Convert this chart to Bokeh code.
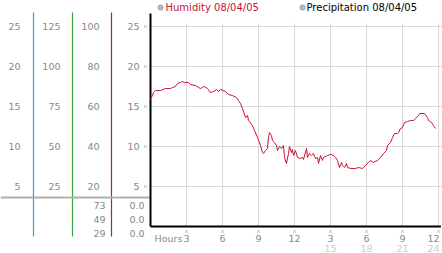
from bokeh.plotting import figure
from bokeh.models import Range1d
from bokeh.core.properties import value
from bokeh.embed import file_html
from bokeh.resources import INLINE

# ---------------- data ----------------
hours = [0.0, 0.17, 0.25, 0.42, 0.83, 1.25, 1.67, 1.83, 2.08, 2.25, 2.5, 2.67, 2.83, 3.17, 3.33,
         3.75, 4.0, 4.17, 4.33, 4.5, 4.75, 5.0, 5.25, 5.5, 5.67, 5.83, 6.25, 6.5, 6.83, 7.17,
         7.33, 7.5, 7.67, 7.92, 8.08, 8.17, 8.5, 8.67, 8.92, 9.17, 9.33, 9.42, 9.58, 9.75, 9.83,
         9.92, 10.08, 10.17, 10.33, 10.5, 10.58, 10.75, 10.92, 11.08, 11.17, 11.33, 11.5, 11.58,
         11.75, 11.83, 11.92, 12.08, 12.25, 12.42, 12.67, 12.75, 13.0, 13.08, 13.25, 13.42, 13.58,
         13.75, 13.92, 14.0, 14.17, 14.33, 14.42, 14.75, 15.0, 15.25, 15.42, 15.58, 15.75, 15.92,
         16.0, 16.17, 16.33, 16.42, 16.67, 17.08, 17.33, 17.67, 17.92, 18.17, 18.33, 18.58, 18.92,
         19.17, 19.42, 19.67, 19.75, 20.0, 20.17, 20.33, 20.58, 20.67, 20.83, 21.0, 21.17, 21.42,
         21.67, 21.92, 22.08, 22.33, 22.42, 22.83, 23.08, 23.17, 23.42, 23.58, 23.75]
humidity = [64, 65.5, 67, 68, 68, 69, 69, 69.5, 70, 71.5, 72, 72.5, 72, 72, 71,
            70.5, 69.5, 69, 69.5, 70, 69, 67, 67.5, 68.5, 67.5, 68.5, 67.5, 66, 65.5, 64.5,
            63, 61.5, 59, 54.5, 55.5, 53, 50.5, 48, 44.5, 40.5, 37, 36.5, 38, 39, 44.5,
            47, 45.5, 43, 42, 40.5, 38, 40, 39, 40.5, 34.5, 31.5, 36.5, 40,
            37, 38.5, 35.5, 38, 34.5, 34, 34.5, 33.5, 39, 34.5, 36.5, 35.5, 36.5,
            34, 34.5, 31.5, 35.5, 33, 34.5, 35.5, 36, 35.5, 34.5, 33, 29.5, 32,
            30.5, 29.5, 31.5, 29.5, 29, 29, 29.5, 29, 30.5, 32, 33, 32, 33,
            34.5, 36.5, 38, 40.5, 42, 44.5, 46.5, 46.5, 47, 49, 49.5, 52, 52.5,
            53, 53, 54, 55.5, 56.5, 56.5, 54.5, 53, 52, 50.5, 49]

grid_pct = [100, 80, 60, 40, 20]
col1_labels = ["25", "20", "15", "10", "5"]
col2_labels = ["125", "100", "75", "50", "25"]
col3_labels = ["100", "80", "60", "40", "20"]
col4_labels = ["25", "20", "15", "10", "5"]
stats_humidity = ["73", "49", "29"]
stats_precip = ["0.0", "0.0", "0.0"]
hour_ticks = [3, 6, 9, 12, 15, 18, 21, 24]
hour_labels = ["3", "6", "9", "12", "3", "6", "9", "12"]
hour_ticks2 = [15, 18, 21, 24]
hour_labels2 = ["15", "18", "21", "24"]
legend_names = ["Humidity 08/04/05", "Precipitation 08/04/05"]

# ---------------- layout ----------------
W, H = 442, 253
X0, PXH = 150, 12.0      # pixel of hour 0, pixels per hour
Y0, PYP = 226, 2.0       # pixel of 0 %, pixels per %
FONT = value("DejaVu Sans")
GRAY = "#888888"

p = figure(width=W, height=H, output_backend="svg", toolbar_location=None,
           x_range=Range1d(-X0 / PXH, (W - X0) / PXH),
           y_range=Range1d(-(H - Y0) / PYP, Y0 / PYP),
           min_border=0, x_axis_location=None, y_axis_location=None)
p.extra_x_ranges = {"px": Range1d(0, W)}
p.extra_y_ranges = {"px": Range1d(H, 0)}
p.grid.visible = False
p.outline_line_color = None
p.background_fill_color = "white"
p.border_fill_color = "white"

# grid lines
p.segment(x0=[-0.05] * len(grid_pct), x1=[24.3] * len(grid_pct), y0=grid_pct, y1=grid_pct,
          line_color="#d8d8d8", line_width=1)
p.segment(x0=hour_ticks, x1=hour_ticks, y0=[0] * len(hour_ticks), y1=[101.5] * len(hour_ticks),
          line_color="#d8d8d8", line_width=1)

# left panel: coloured separators and gray rule
p.segment(x0=[33, 72, 111], x1=[33, 72, 111], y0=[12, 12, 12], y1=[236, 236, 236],
          line_color=["#3a9bd5", "#3aa53a", "#b8232f"], line_width=1.2,
          x_range_name="px", y_range_name="px")
p.segment(x0=[0], x1=[150], y0=[197], y1=[197], line_color="#b0b0b0", line_width=2,
          x_range_name="px", y_range_name="px")

# left panel labels
for xr, labels in [(20, col1_labels), (60, col2_labels), (99, col3_labels), (139, col4_labels)]:
    p.text(x=[xr] * len(labels), y=grid_pct, text=labels, x_range_name="px",
           text_align="right", text_baseline="middle", text_font=FONT,
           text_font_size="9.5px", text_color=GRAY)
p.scatter(x=[145] * len(grid_pct), y=grid_pct, marker="x", size=3, line_color="#999999",
          x_range_name="px")
p.text(x=[105] * 3, y=[205, 219, 233], text=stats_humidity, x_range_name="px", y_range_name="px",
       text_align="right", text_baseline="middle", text_font=FONT, text_font_size="9.5px",
       text_color=GRAY)
p.text(x=[144] * 3, y=[205, 219, 233], text=stats_precip, x_range_name="px", y_range_name="px",
       text_align="right", text_baseline="middle", text_font=FONT, text_font_size="9.5px",
       text_color=GRAY)

# axes
p.segment(x0=[0, 0], x1=[0, 24.2], y0=[0, 0], y1=[106.5, 0], line_color="black", line_width=2)

# hour ticks (last label nudged left so it stays inside the window)
offs1 = [0] * (len(hour_ticks) - 1) + [-5]
offs2 = [0] * (len(hour_ticks2) - 1) + [-5]
p.scatter(x=hour_ticks, y=[231] * len(hour_ticks), marker="x", size=3, line_color="#999999",
          y_range_name="px")
p.text(x=hour_ticks, y=[238] * len(hour_ticks), text=hour_labels, y_range_name="px",
       x_offset=offs1, text_align="center", text_baseline="middle", text_font=FONT,
       text_font_size="9.5px", text_color=GRAY)
p.text(x=hour_ticks2, y=[248] * len(hour_ticks2), text=hour_labels2, y_range_name="px",
       x_offset=offs2, text_align="center", text_baseline="middle", text_font=FONT,
       text_font_size="9.5px", text_color="#cccccc")
p.text(x=[154], y=[238], text=["Hours"], x_range_name="px", y_range_name="px",
       text_align="left", text_baseline="middle", text_font=FONT, text_font_size="9.5px",
       text_color=GRAY)

# humidity line
p.line(x=hours, y=humidity, line_color="#cc1133", line_width=1)

# legend
p.scatter(x=[160, 302], y=[7, 7], marker="circle", size=5, fill_color="#bbbbbb",
          line_color="#999999", x_range_name="px", y_range_name="px")
p.text(x=[165, 306], y=[7, 7], text=legend_names, x_range_name="px", y_range_name="px",
       text_align="left", text_baseline="middle", text_font=FONT, text_font_size="10px",
       text_color=["#cc1133", "black"])

open("out.html", "w").write(file_html(p, INLINE))
